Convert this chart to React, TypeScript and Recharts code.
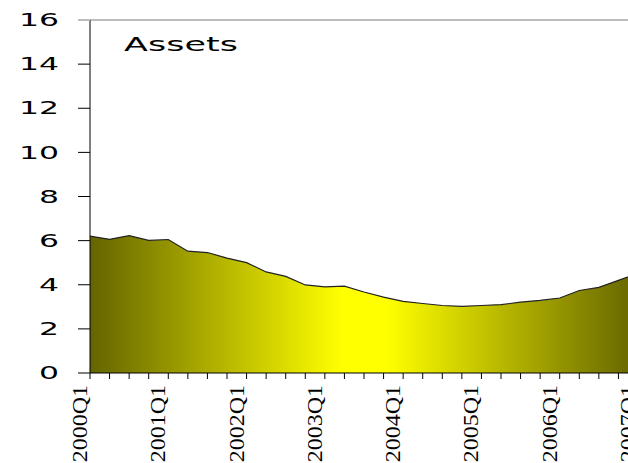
import React from 'react';
import { AreaChart, Area, XAxis, YAxis, ReferenceLine } from 'recharts';

// quarterly categories, 2000Q1 .. 2007Q1
const quarters = [
  '2000Q1', '2000Q2', '2000Q3', '2000Q4',
  '2001Q1', '2001Q2', '2001Q3', '2001Q4',
  '2002Q1', '2002Q2', '2002Q3', '2002Q4',
  '2003Q1', '2003Q2', '2003Q3', '2003Q4',
  '2004Q1', '2004Q2', '2004Q3', '2004Q4',
  '2005Q1', '2005Q2', '2005Q3', '2005Q4',
  '2006Q1', '2006Q2', '2006Q3', '2006Q4',
  '2007Q1',
];

const assets = [
  6.2, 6.06, 6.23, 6.01, 6.05, 5.52, 5.46, 5.21,
  5.0, 4.58, 4.38, 3.99, 3.9, 3.94, 3.67, 3.44,
  3.25, 3.15, 3.06, 3.02, 3.06, 3.1, 3.21, 3.29,
  3.4, 3.74, 3.88, 4.2, 4.52,
];

const yTicks = [0, 2, 4, 6, 8, 10, 12, 14, 16];

const chartData = quarters.map((q, i) => ({ q, assets: assets[i] }));

// rotated year labels, only on the first quarter
const QuarterTick = (props: any) => {
  const { x, y, payload } = props;
  if (!String(payload.value).endsWith('Q1')) return null;
  return (
    <text
      transform={`translate(${x - 3}, ${y + 4}) rotate(-90) scale(1.2, 1)`}
      textAnchor="end"
      fontFamily="'Liberation Serif', serif"
      fontSize={20}
      fill="#000"
    >
      {payload.value}
    </text>
  );
};

// wide sans tick labels, tick line drawn by hand (16 is grey)
const ValueTick = (props: any) => {
  const { y, payload } = props;
  const top = payload.value === 16;
  return (
    <g>
      <line x1={78} x2={90} y1={y} y2={y} stroke={top ? '#bdbdbd' : '#000'} strokeWidth={top ? 2 : 1} />
      <text
        transform={`translate(59, ${y}) scale(1.85, 1)`}
        textAnchor="end"
        dy="0.36em"
        fontFamily="'DejaVu Sans', sans-serif"
        fontSize={17}
        fill="#000"
      >
        {payload.value}
      </text>
    </g>
  );
};

export default function App() {
  return (
    <div style={{ position: 'absolute', left: 0, top: 0, width: 628, height: 463, overflow: 'hidden', background: '#fff' }}>
      <AreaChart width={642} height={463} data={chartData} margin={{ top: 20, right: 4, left: 0, bottom: 0 }}>
        <defs>
          <linearGradient id="assetsFill" x1="0" y1="0" x2="1" y2="0">
            <stop offset="0%" stopColor="#646400" />
            <stop offset="46%" stopColor="#ffff00" />
            <stop offset="54%" stopColor="#ffff00" />
            <stop offset="100%" stopColor="#646400" />
          </linearGradient>
        </defs>
        <XAxis
          dataKey="q"
          interval={0}
          tickSize={6}
          height={90}
          axisLine={{ stroke: '#000' }}
          tickLine={{ stroke: '#000' }}
          tick={<QuarterTick />}
        />
        <YAxis
          domain={[0, 16]}
          ticks={yTicks}
          interval={0}
          width={90}
          tickLine={false}
          axisLine={{ stroke: '#000' }}
          tick={<ValueTick />}
        />
        <ReferenceLine y={16} stroke="#bdbdbd" strokeWidth={2} />
        <Area
          type="linear"
          dataKey="assets"
          stroke="#222"
          strokeWidth={1.2}
          fill="url(#assetsFill)"
          fillOpacity={1}
          isAnimationActive={false}
          dot={false}
          activeDot={false}
        />
      </AreaChart>
      <svg width={628} height={463} style={{ position: 'absolute', left: 0, top: 0, pointerEvents: 'none' }}>
        <text
          transform="translate(124, 51) scale(1.75, 1)"
          fontFamily="'DejaVu Sans', sans-serif"
          fontSize={20}
          fill="#000"
        >
          Assets
        </text>
      </svg>
    </div>
  );
}
